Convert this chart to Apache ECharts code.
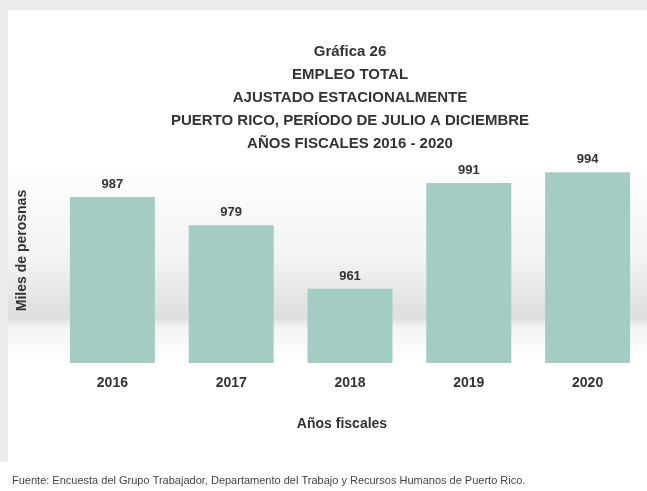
<!DOCTYPE html>
<html>
<head>
<meta charset="utf-8">
<script src="https://cdn.jsdelivr.net/npm/echarts@6/dist/echarts.min.js"></script>
<style>
  html, body { margin: 0; padding: 0; background: #fff; }
  #main { width: 647px; height: 491px; }
</style>
</head>
<body>
<div id="main"></div>
<script>
// datos de la gráfica
const years = ['2016', '2017', '2018', '2019', '2020'];
const empleo = [987, 979, 961, 991, 994];
const titleLines = [
    'Gráfica 26',
    'EMPLEO TOTAL',
    'AJUSTADO ESTACIONALMENTE',
    'PUERTO RICO, PERÍODO DE JULIO A DICIEMBRE',
    'AÑOS FISCALES 2016 - 2020'
];
const fuente = 'Fuente: Encuesta del Grupo Trabajador, Departamento del Trabajo y Recursos Humanos de Puerto Rico.';

const myChart = echarts.init(document.getElementById('main'));

const option = {
    backgroundColor: '#ffffff',
    animation: false,
    textStyle: { fontFamily: 'Liberation Sans, Arial, sans-serif' },
    graphic: [
        // marco gris del fondo
        { type: 'rect', z: -10, shape: { x: 0, y: 0, width: 647, height: 10 }, style: { fill: '#ececec' } },
        { type: 'rect', z: -10, shape: { x: 0, y: 0, width: 8, height: 462 }, style: { fill: '#ececec' } },
        // piso con sombreado
        {
            type: 'rect', z: -9,
            shape: { x: 8, y: 160, width: 639, height: 225 },
            style: {
                fill: new echarts.graphic.LinearGradient(0, 0, 0, 1, [
                    { offset: 0, color: '#ffffff' },
                    { offset: 0.45, color: '#f2f2f2' },
                    { offset: 0.7, color: '#dedede' },
                    { offset: 0.74, color: '#f3f3f3' },
                    { offset: 0.9, color: '#ffffff' },
                    { offset: 1, color: '#ffffff' }
                ])
            }
        },
        {
            type: 'text', left: 12, top: 475, z: 10,
            style: { text: fuente, fontSize: 11, fill: '#444', fontFamily: 'Liberation Sans, Arial, sans-serif' }
        }
    ],
    title: {
        text: titleLines.join('\n'),
        left: 345,
        top: 35,
        textAlign: 'center',
        textStyle: {
            fontSize: 15,
            fontWeight: 'bold',
            color: '#333',
            lineHeight: 23
        }
    },
    grid: {
        left: 53,
        right: -1,
        top: 160,
        bottom: 128
    },
    xAxis: {
        type: 'category',
        data: years,
        name: 'Años fiscales',
        nameLocation: 'middle',
        nameGap: 54,
        nameTextStyle: { fontSize: 14, fontWeight: 'bold', color: '#333', padding: [0, 16, 0, 0] },
        axisLine: { show: false },
        axisTick: { show: false },
        axisLabel: { fontSize: 14, fontWeight: 'bold', color: '#333', margin: 13 }
    },
    yAxis: {
        type: 'value',
        min: 940,
        max: 997.5,
        name: 'Miles de perosnas',
        nameLocation: 'middle',
        nameGap: 24,
        nameTextStyle: { fontSize: 14, fontWeight: 'bold', color: '#333', padding: [0, 0, 0, 22] },
        axisLine: { show: false },
        axisTick: { show: false },
        axisLabel: { show: false },
        splitLine: { show: false }
    },
    series: [
        {
            type: 'bar',
            data: empleo,
            barWidth: 85,
            itemStyle: { color: '#a3cdc4' },
            label: {
                show: true,
                position: 'top',
                distance: 6,
                fontSize: 13,
                fontWeight: 'bold',
                color: '#333'
            }
        }
    ]
};
myChart.setOption(option);
</script>
</body>
</html>
